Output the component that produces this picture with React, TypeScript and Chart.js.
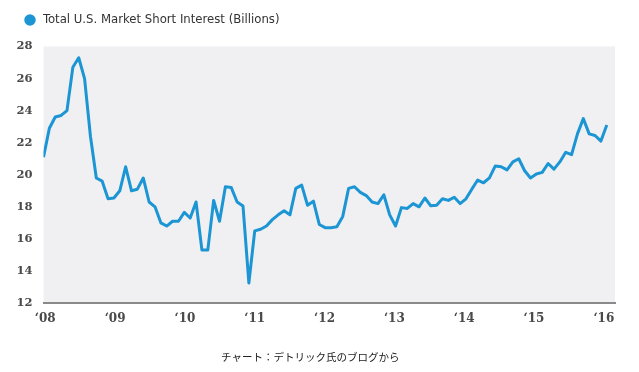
import { useEffect, useRef } from "react";
import { Chart, registerables } from "chart.js";

Chart.register(...registerables);

const seriesLabel = "Total U.S. Market Short Interest (Billions)";
const sourceNote = "チャート：デトリック氏のブログから";
const yearLabels = ["‘08", "‘09", "‘10", "‘11", "‘12", "‘13", "‘14", "‘15", "‘16"];

// Monthly values (billions), Jan of each year onward
const values2008 = [21.1, 22.9, 23.6, 23.7, 24.0, 26.7, 27.3, 26.0, 22.4, 19.8, 19.6, 18.5];
const values2009 = [18.55, 19.0, 20.5, 19.0, 19.1, 19.8, 18.3, 18.0, 17.0, 16.8, 17.1, 17.1];
const values2010 = [17.65, 17.3, 18.3, 15.3, 15.3, 18.4, 17.1, 19.25, 19.2, 18.3, 18.05, 13.25];
const values2011 = [16.5, 16.6, 16.8, 17.2, 17.5, 17.75, 17.5, 19.15, 19.35, 18.1, 18.35, 16.9];
const values2012 = [16.7, 16.7, 16.75, 17.4, 19.15, 19.25, 18.9, 18.7, 18.3, 18.2, 18.75, 17.5];
const values2013 = [16.8, 17.95, 17.9, 18.2, 18.0, 18.55, 18.06, 18.1, 18.5, 18.4, 18.6, 18.2];
const values2014 = [18.5, 19.1, 19.67, 19.5, 19.8, 20.55, 20.5, 20.3, 20.8, 21.0, 20.25, 19.8];
const values2015 = [20.05, 20.15, 20.7, 20.35, 20.8, 21.4, 21.25, 22.55, 23.5, 22.55, 22.45, 22.1];
const values2016 = [23.1];

const yTicks = [12, 14, 16, 18, 20, 22, 24, 26, 28];

const allValues = [
  ...values2008, ...values2009, ...values2010, ...values2011, ...values2012,
  ...values2013, ...values2014, ...values2015, ...values2016,
];

const plotBg = {
  id: "plotBg",
  beforeDraw(chart: any) {
    const { ctx, chartArea } = chart;
    if (!chartArea) return;
    ctx.save();
    ctx.fillStyle = "#f0f0f3";
    ctx.fillRect(chartArea.left, chartArea.top, chartArea.right - chartArea.left, chartArea.bottom - chartArea.top);
    ctx.restore();
  },
};

const legendTweak = {
  id: "legendTweak",
  beforeInit(chart: any) {
    const legend = chart.legend;
    if (!legend) return;
    const origFit = legend.fit;
    legend.fit = function () {
      origFit.call(this);
      this.height += 10;
    };
    const origDraw = legend.draw;
    legend.draw = function (...args: any[]) {
      const ctx = this.ctx;
      ctx.save();
      ctx.translate(8, 0);
      origDraw.apply(this, args);
      ctx.restore();
    };
  },
};

export default function App() {
  const ref = useRef<HTMLCanvasElement | null>(null);
  useEffect(() => {
    if (!ref.current) return;
    const chart = new Chart(ref.current, {
      type: "line",
      data: {
        datasets: [
          {
            label: seriesLabel,
            data: allValues.map((v, i) => ({ x: i, y: v })),
            borderColor: "#1b95d3",
            backgroundColor: "#1b95d3",
            borderWidth: 3,
            pointRadius: 0,
            tension: 0,
            borderJoinStyle: "round",
            pointStyle: "circle",
          },
        ],
      },
      options: {
        animation: false,
        responsive: false,
        maintainAspectRatio: false,
        layout: { padding: { left: 5.5, right: 24, top: 3.5, bottom: 9 } },
        plugins: {
          tooltip: { enabled: false },
          legend: {
            position: "top",
            align: "start",
            labels: {
              usePointStyle: true,
              boxWidth: 13,
              boxHeight: 6,
              color: "#333",
              font: { family: "'DejaVu Sans Condensed', 'DejaVu Sans', sans-serif", size: 13 },
              padding: 10,
            },
          },
          title: {
            display: true,
            position: "bottom",
            text: sourceNote,
            color: "#222",
            font: { family: "'Noto Sans CJK JP', sans-serif", size: 10.5, weight: "normal" },
            padding: { top: 15, bottom: 0 },
          },
        },
        scales: {
          x: {
            type: "linear",
            min: 0,
            max: 97.4,
            grid: { display: false, drawTicks: false },
            border: { display: true, color: "#8a8a8a", width: 2 },
            afterBuildTicks: (scale: any) => {
              scale.ticks = yearLabels.map((_, k) => ({ value: 0.3 + k * 11.9 }));
            },
            ticks: {
              color: "#4a4a4a",
              padding: 9,
              maxRotation: 0,
              autoSkip: false,
              font: { family: "'DejaVu Serif', serif", size: 12, weight: "bold" },
              callback: (v: any) => yearLabels[Math.round((Number(v) - 0.3) / 11.9)],
            },
          },
          y: {
            min: 12,
            max: 28,
            grid: { display: false, drawTicks: false },
            border: { display: false },
            afterBuildTicks: (scale: any) => {
              scale.ticks = yTicks.map((v) => ({ value: v }));
            },
            ticks: {
              color: "#4a4a4a",
              padding: 11,
              font: { family: "'DejaVu Serif', serif", size: 11.5, weight: "bold" },
            },
          },
        },
      },
      plugins: [plotBg, legendTweak],
    });
    return () => chart.destroy();
  }, []);
  return (
    <div style={{ position: "absolute", left: 0, top: 0, width: 639, height: 372, background: "#fff" }}>
      <canvas ref={ref} width={639} height={372} />
    </div>
  );
}
